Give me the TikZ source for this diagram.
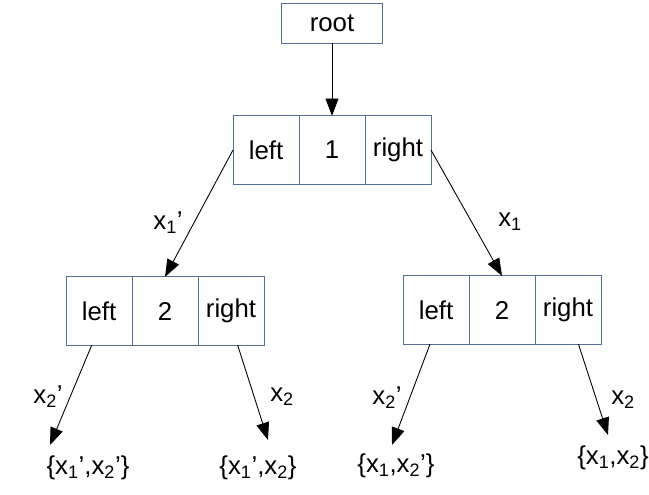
\documentclass[tikz,border=0pt]{standalone}
\usepackage{fontspec}
\setmainfont{Liberation Sans}
\usetikzlibrary{arrows.meta,positioning}
\definecolor{boxblue}{RGB}{84,110,158}

\begin{document}
\begin{tikzpicture}[
    x=0.03cm, y=-0.03cm,
    font=\fontsize{22}{26}\selectfont,
    >={Triangle[length=0.52cm, width=0.39cm]},
    cell/.style={draw=boxblue, line width=0.7pt, inner sep=0pt, outer sep=0pt,
        minimum width=1.98cm, minimum height=2.05cm},
    link/.style={->, line width=0.75pt, black},
    lbl/.style={inner sep=0pt}
]
    \useasboundingbox (0,0) rectangle (649,494);

    % root and first split
    \node[cell, minimum width=3.03cm, minimum height=1.2cm] (root) at (332,23) {root};
    \node[cell] (n1) at (332,150) {1};
    \node[cell, left=0pt of n1] (n1l) {left};
    \node[cell, right=0pt of n1] (n1r) {right};

    % second level
    \node[cell] (n2a) at (165,311) {2};
    \node[cell, left=0pt of n2a] (n2al) {left};
    \node[cell, right=0pt of n2a] (n2ar) {right};
    \node[cell] (n2b) at (502,310) {2};
    \node[cell, left=0pt of n2b] (n2bl) {left};
    \node[cell, right=0pt of n2b] (n2br) {right};

    % leaves
    \node[lbl] (leafa) at (88,468) {\{x\textsubscript{1}',x\textsubscript{2}'\}};
    \node[lbl] (leafb) at (258,468) {\{x\textsubscript{1}',x\textsubscript{2}\}};
    \node[lbl] (leafc) at (396,466) {\{x\textsubscript{1},x\textsubscript{2}'\}};
    \node[lbl] (leafd) at (613,458) {\{x\textsubscript{1},x\textsubscript{2}\}};
    \coordinate (tipa) at (50,445);
    \coordinate (tipb) at (268,440);
    \coordinate (tipc) at (392,445);
    \coordinate (tipd) at (608,435);

    % edge labels
    \node[lbl] (ea) at (168,223) {x\textsubscript{1}'};
    \node[lbl] (eb) at (510,222) {x\textsubscript{1}};
    \node[lbl] (ec) at (48,397) {x\textsubscript{2}'};
    \node[lbl] (ed) at (282,397) {x\textsubscript{2}};
    \node[lbl] (ee) at (387,398) {x\textsubscript{2}'};
    \node[lbl] (ef) at (623,400) {x\textsubscript{2}};

    \draw[link] (root) -- (n1.north);
    \draw[link] (n1l.west) -- (n2a.north);
    \draw[link] (n1r.east) -- (n2b.north);
    \draw[link] (n2al.-102) -- (tipa);
    \draw[link] (n2ar.-79) -- (tipb);
    \draw[link] (n2bl.-100) -- (tipc);
    \draw[link] (n2br.-73) -- (tipd);
\end{tikzpicture}
\end{document}
